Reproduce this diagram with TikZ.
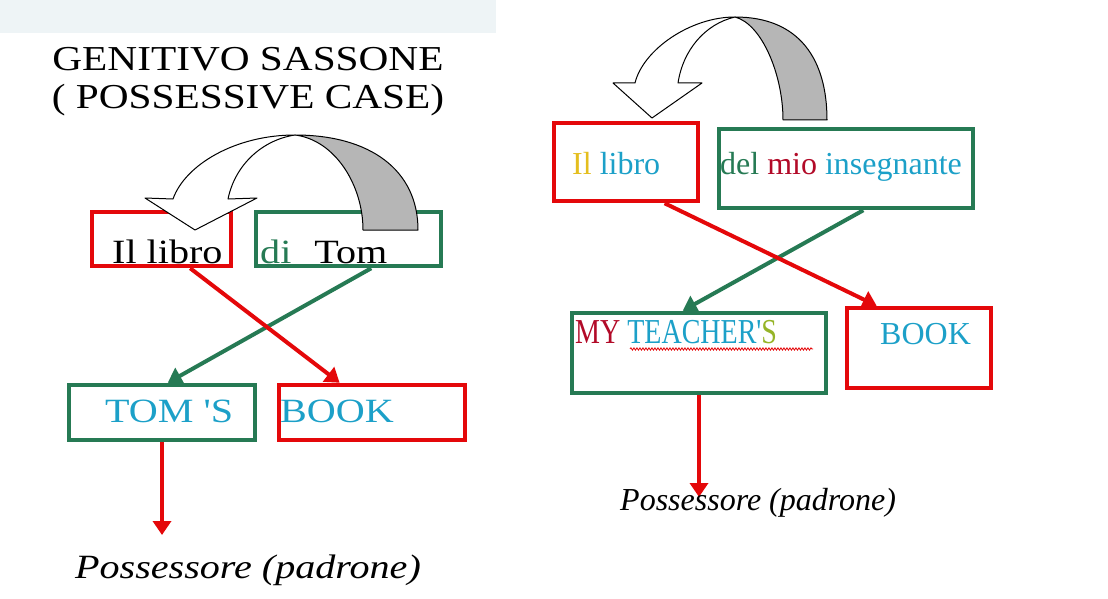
\documentclass[tikz,border=0pt]{standalone}
\usepackage{fontspec}
\setmainfont{Liberation Serif}
\newfontfamily\wideserif{Liberation Serif}[FakeStretch=1.18]
\newfontfamily\narrowserif{Liberation Serif}[FakeStretch=0.8]
\usetikzlibrary{positioning,arrows.meta,calc,decorations.pathmorphing}
\definecolor{gsRed}{RGB}{228,8,10}
\definecolor{gsGreen}{RGB}{38,122,84}
\definecolor{gsCyan}{RGB}{28,160,200}
\definecolor{gsGold}{RGB}{228,190,30}
\definecolor{gsWine}{RGB}{178,10,40}
\definecolor{gsLime}{RGB}{150,180,40}
\definecolor{gsGray}{RGB}{182,182,182}
\definecolor{gsBand}{RGB}{238,244,246}
\newcommand{\fsize}[1]{\fontsize{#1}{#1}\selectfont}

\begin{document}
\begin{tikzpicture}[
    x=1pt, y=-1pt,
    red box/.style={rectangle, draw=gsRed, line width=4.5pt, inner sep=0pt},
    green box/.style={rectangle, draw=gsGreen, line width=4.5pt, inner sep=0pt},
    word/.style={inner sep=0pt, anchor=base west},
    red link/.style={draw=gsRed, line width=4pt, ->},
    green link/.style={draw=gsGreen, line width=4pt, ->},
    >={Triangle[length=14pt,width=18pt]},
    turn/.style={draw=black, line width=1pt, line join=round}
]
  \useasboundingbox (0,0) rectangle (1108,599);
  \fill[gsBand] (0,0) rectangle (496,33);

  % left: Il libro di Tom
  \node[word, anchor=base] (title1) at (248,71) {\wideserif\fsize{35}GENITIVO SASSONE};
  \node[word, anchor=base] (title2) at (248,109) {\wideserif\fsize{35}( POSSESSIVE CASE)};

  \node[red box, minimum width=139, minimum height=54] (libroL) at (161.5,239) {};
  \node[green box, minimum width=185, minimum height=54] (diTom) at (348.5,239) {};
  \node[green box, minimum width=186, minimum height=55] (tomsL) at (162,412.5) {};
  \node[red box, minimum width=186, minimum height=55] (bookL) at (372,412.5) {};

  \node[word] (libroLt) at (112,263) {\wideserif\fsize{34}Il libro};
  \node[word] (diTomt) at (260,263) {\wideserif\fsize{34}\textcolor{gsGreen}{di}\hspace{23pt}Tom};
  \node[word, text=gsCyan] (tomsLt) at (105,422) {\wideserif\fsize{34}TOM 'S};
  \node[word, text=gsCyan] (bookLt) at (280,422) {\wideserif\fsize{34}BOOK};

  \draw[green link] ($(diTom.south west)!0.62!(diTom.south east)$) -- ($(tomsL.north west)!0.53!(tomsL.north east)$);
  \draw[red link] ($(libroL.south west)!0.7!(libroL.south east)$) -- ($(bookL.north west)!0.33!(bookL.north east)$);

  \coordinate (ownerL) at (162,535);
  \draw[red link] (tomsL.south) -- (ownerL);
  \node[word, anchor=base] (ownerLt) at (248,578) {\wideserif\fsize{34}\itshape Possessore (padrone)};

  % right: Il libro del mio insegnante
  \node[red box, minimum width=144, minimum height=78] (libroR) at (626,162) {};
  \node[green box, minimum width=254, minimum height=79] (insR) at (846,168.5) {};
  \node[green box, minimum width=254, minimum height=80] (teachR) at (699,353) {};
  \node[red box, minimum width=144, minimum height=80] (bookR) at (919,348) {};

  \node[word] (libroRt) at (572,175) {\fsize{32}\textcolor{gsGold}{Il} \textcolor{gsCyan}{libro}};
  \node[word] (insRt) at (720,175) {\fsize{32}\textcolor{gsGreen}{del} \textcolor{gsWine}{mio} \textcolor{gsCyan}{insegnante}};
  \node[word] (teachRt) at (575,343) {\narrowserif\fsize{35}\textcolor{gsWine}{MY} \textcolor{gsCyan}{TEACHER'}\textcolor{gsLime}{S}};
  \node[word, text=gsCyan] (bookRt) at (880,344) {\fsize{32}BOOK};
  \draw[gsRed, line width=0.8pt, decorate, decoration={snake, amplitude=1.2pt, segment length=3pt}] (630,349) -- (813,349);

  \draw[green link] ($(insR.south west)!0.567!(insR.south east)$) -- ($(teachR.north west)!0.437!(teachR.north east)$);
  \draw[red link] ($(libroR.south west)!0.76!(libroR.south east)$) -- ($(bookR.north west)!0.215!(bookR.north east)$);

  \coordinate (ownerR) at (699,497);
  \draw[red link] (teachR.south) -- (ownerR);
  \node[word] (ownerRt) at (620,510) {\fsize{32}\itshape Possessore (padrone)};

  % turning arrows
  \filldraw[turn, fill=gsGray] (363,230) -- (418,230) .. controls (418,170) and (370,135) .. (295,135)
    .. controls (335,140) and (363,185) .. (363,230) -- cycle;
  \filldraw[turn, fill=white] (295,135) .. controls (235,135) and (185,165) .. (173,199) -- (145,198) -- (195,230)
    -- (257,198) -- (228,199) .. controls (235,165) and (262,140) .. (295,135) -- cycle;
  \filldraw[turn, fill=gsGray] (783,120) -- (827,120) .. controls (827,60) and (800,17) .. (735,17)
    .. controls (762,24) and (783,75) .. (783,120) -- cycle;
  \filldraw[turn, fill=white] (735,17) .. controls (690,17) and (643,50) .. (635,83) -- (613,83) -- (652,118)
    -- (702,83) -- (678,83) .. controls (683,50) and (705,24) .. (735,17) -- cycle;
\end{tikzpicture}
\end{document}
